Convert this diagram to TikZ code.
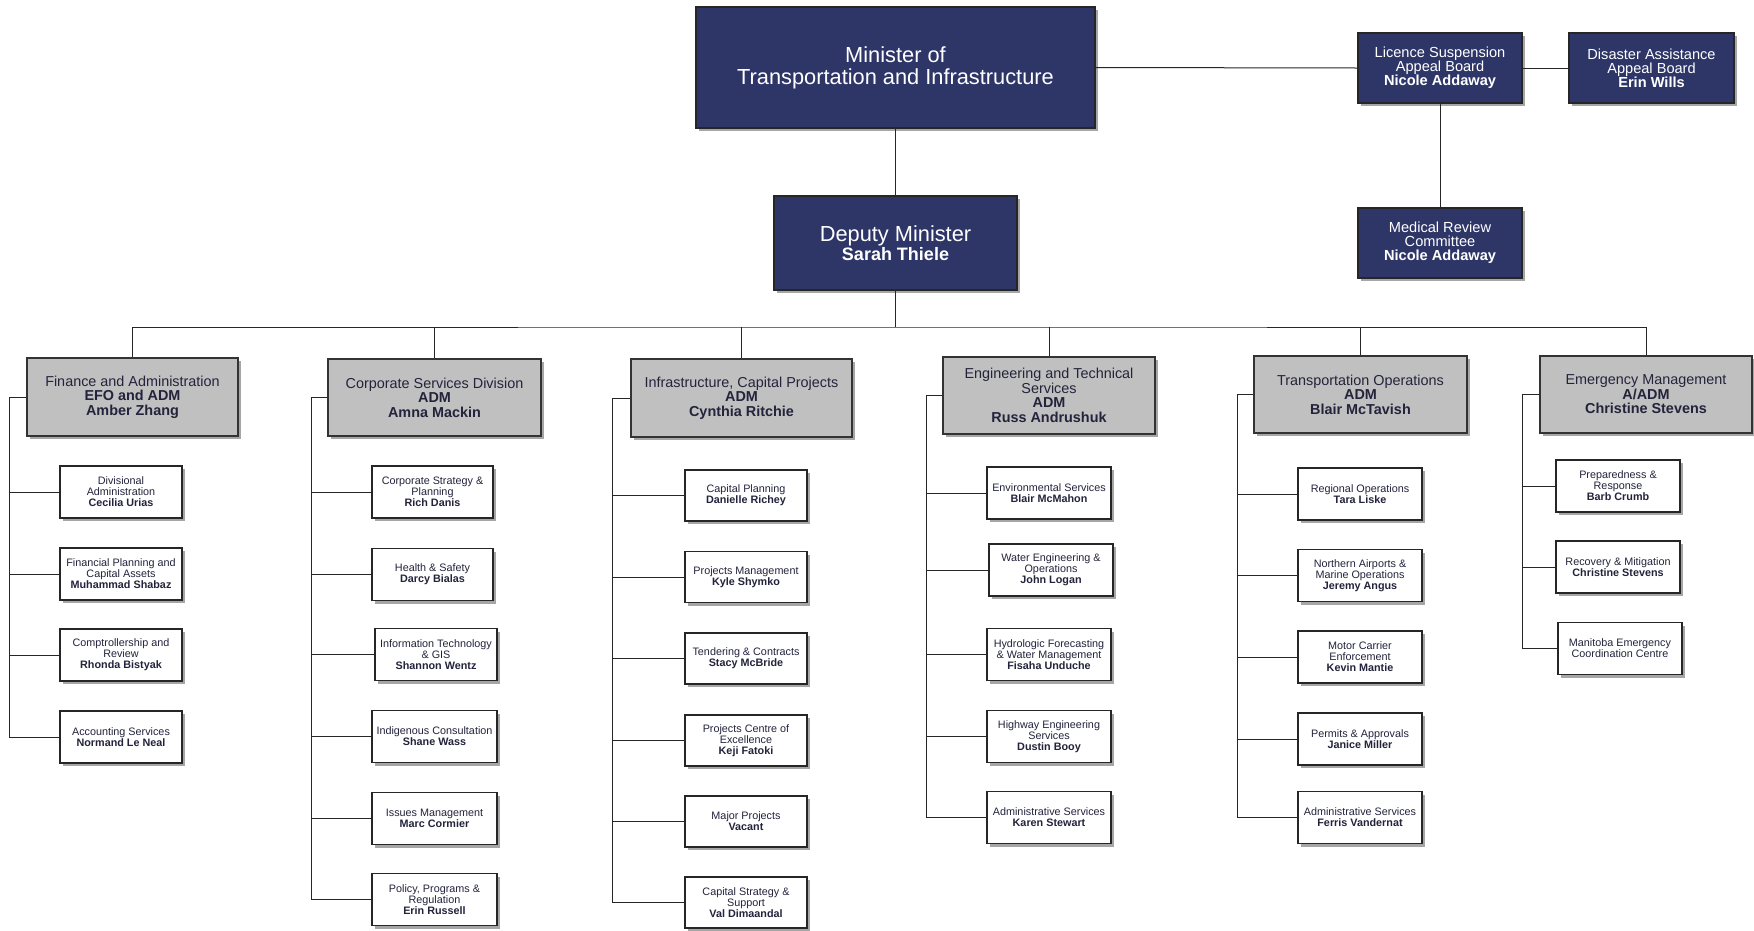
\documentclass[tikz,border=0pt]{standalone}
\usepackage{fontspec}
\setmainfont{Liberation Sans}
\usetikzlibrary{shadows}
\definecolor{navy}{RGB}{46,54,104}
\definecolor{divgray}{RGB}{192,192,192}
\definecolor{darktext}{RGB}{35,35,60}

\begin{document}
\begin{tikzpicture}[
  x=1pt, y=-1pt,
  boxshadow/.style={drop shadow={shadow xshift=3pt, shadow yshift=-3pt, fill=black, opacity=0.35}},
  topbox/.style={rectangle, draw=black!85, line width=1.2pt, fill=navy, text=white, align=center, inner sep=2pt, boxshadow},
  divbox/.style={rectangle, draw=black!80, line width=1.2pt, fill=divgray, text=darktext, align=center, inner sep=2pt, font=\fontsize{14.4}{14.5}\selectfont, boxshadow},
  unitbox/.style={rectangle, draw=black!85, line width=1.2pt, fill=white, text=darktext, align=center, inner sep=1pt, minimum width=123pt, font=\fontsize{10.8}{11}\selectfont, boxshadow},
  conn/.style={draw=black!85, line width=1pt}
]
  \useasboundingbox (0,0) rectangle (1754,930);

  % Minister and boards (top)
  \node[topbox, minimum width=399pt, minimum height=121pt, font=\fontsize{21.8}{22}\selectfont] (minister) at (895.5,67.5) {Minister of\\Transportation and Infrastructure};
  \node[topbox, minimum width=243pt, minimum height=94pt, font=\fontsize{21.8}{22}\selectfont] (deputy) at (895.5,243) {Deputy Minister\\[-3pt]{\bfseries\fontsize{18}{18}\selectfont Sarah Thiele}};
  \node[topbox, minimum width=164pt, minimum height=70pt, font=\fontsize{14.6}{14.2}\selectfont] (licence) at (1440,68) {Licence Suspension\\Appeal Board\\\textbf{Nicole Addaway}};
  \node[topbox, minimum width=165pt, minimum height=70pt, font=\fontsize{14.6}{14.2}\selectfont] (disaster) at (1651.5,68) {Disaster Assistance\\Appeal Board\\\textbf{Erin Wills}};
  \node[topbox, minimum width=164pt, minimum height=70pt, font=\fontsize{14.6}{14.2}\selectfont] (medical) at (1440,243) {Medical Review\\Committee\\\textbf{Nicole Addaway}};

  % Divisions (middle)
  \node[divbox, minimum width=211pt, minimum height=78pt] (fin) at (132.5,397) {Finance and Administration\\\textbf{EFO and ADM}\\\textbf{Amber Zhang}};
  \node[divbox, minimum width=213pt, minimum height=77pt] (corp) at (434.5,397.5) {Corporate Services Division\\\textbf{ADM}\\\textbf{Amna Mackin}};
  \node[divbox, minimum width=221pt, minimum height=78pt] (infra) at (741.5,398) {Infrastructure, Capital Projects\\\textbf{ADM}\\\textbf{Cynthia Ritchie}};
  \node[divbox, minimum width=212pt, minimum height=77pt] (eng) at (1049,395.5) {Engineering and Technical\\Services\\\textbf{ADM}\\\textbf{Russ Andrushuk}};
  \node[divbox, minimum width=213pt, minimum height=77pt] (trans) at (1360.5,394.5) {Transportation Operations\\\textbf{ADM}\\\textbf{Blair McTavish}};
  \node[divbox, minimum width=212pt, minimum height=77pt] (emerg) at (1646,394.5) {Emergency Management\\\textbf{A/ADM}\\\textbf{Christine Stevens}};

  % Finance units
  \node[unitbox, minimum width=122pt, minimum height=52pt] (fin1) at (121,492) {Divisional\\Administration\\\textbf{Cecilia Urias}};
  \node[unitbox, minimum width=122pt, minimum height=52pt] (fin2) at (121,574) {Financial Planning and\\Capital Assets\\\textbf{Muhammad Shabaz}};
  \node[unitbox, minimum width=122pt, minimum height=52pt] (fin3) at (121,655) {Comptrollership and\\Review\\\textbf{Rhonda Bistyak}};
  \node[unitbox, minimum width=122pt, minimum height=52pt] (fin4) at (121,737) {Accounting Services\\\textbf{Normand Le Neal}};

  % Corporate Services units
  \node[unitbox, minimum width=121pt, minimum height=52pt] (corp1) at (432.5,492) {Corporate Strategy \&\\Planning\\\textbf{Rich Danis}};
  \node[unitbox, minimum width=121pt, minimum height=52pt] (corp2) at (432.5,574.5) {Health \& Safety\\\textbf{Darcy Bialas}};
  \node[unitbox, minimum width=122pt, minimum height=52pt] (corp3) at (436,654.5) {Information Technology\\\& GIS\\\textbf{Shannon Wentz}};
  \node[unitbox, minimum width=125pt, minimum height=52pt] (corp4) at (434.5,736.5) {Indigenous Consultation\\\textbf{Shane Wass}};
  \node[unitbox, minimum width=125pt, minimum height=52pt] (corp5) at (434.5,818.5) {Issues Management\\\textbf{Marc Cormier}};
  \node[unitbox, minimum width=125pt, minimum height=52pt] (corp6) at (434.5,899.5) {Policy, Programs \&\\Regulation\\\textbf{Erin Russell}};

  % Infrastructure units
  \node[unitbox, minimum width=122pt, minimum height=51pt] (infra1) at (746,495.5) {Capital Planning\\\textbf{Danielle Richey}};
  \node[unitbox, minimum width=122pt, minimum height=51pt] (infra2) at (746,577) {Projects Management\\\textbf{Kyle Shymko}};
  \node[unitbox, minimum width=122pt, minimum height=51pt] (infra3) at (746,658.5) {Tendering \& Contracts\\\textbf{Stacy McBride}};
  \node[unitbox, minimum width=122pt, minimum height=51pt] (infra4) at (746,740.5) {Projects Centre of\\Excellence\\\textbf{Keji Fatoki}};
  \node[unitbox, minimum width=122pt, minimum height=51pt] (infra5) at (746,821.5) {Major Projects\\\textbf{Vacant}};
  \node[unitbox, minimum width=122pt, minimum height=51pt] (infra6) at (746,902.5) {Capital Strategy \&\\Support\\\textbf{Val Dimaandal}};

  % Engineering units
  \node[unitbox, minimum width=124pt, minimum height=52pt] (eng1) at (1049,493) {Environmental Services\\\textbf{Blair McMahon}};
  \node[unitbox, minimum width=124pt, minimum height=52pt] (eng2) at (1051,570) {Water Engineering \&\\Operations\\\textbf{John Logan}};
  \node[unitbox, minimum width=124pt, minimum height=52pt] (eng3) at (1049,654.5) {Hydrologic Forecasting\\\& Water Management\\\textbf{Fisaha Unduche}};
  \node[unitbox, minimum width=124pt, minimum height=52pt] (eng4) at (1049,736.5) {Highway Engineering\\Services\\\textbf{Dustin Booy}};
  \node[unitbox, minimum width=124pt, minimum height=52pt] (eng5) at (1049,817.5) {Administrative Services\\\textbf{Karen Stewart}};

  % Transportation units
  \node[unitbox, minimum width=124pt, minimum height=52pt] (trans1) at (1360,494) {Regional Operations\\\textbf{Tara Liske}};
  \node[unitbox, minimum width=124pt, minimum height=52pt] (trans2) at (1360,575.5) {Northern Airports \&\\Marine Operations\\\textbf{Jeremy Angus}};
  \node[unitbox, minimum width=124pt, minimum height=52pt] (trans3) at (1360,657) {Motor Carrier\\Enforcement\\\textbf{Kevin Mantie}};
  \node[unitbox, minimum width=124pt, minimum height=52pt] (trans4) at (1360,739) {Permits \& Approvals\\\textbf{Janice Miller}};
  \node[unitbox, minimum width=124pt, minimum height=52pt] (trans5) at (1360,817.5) {Administrative Services\\\textbf{Ferris Vandernat}};

  % Emergency units
  \node[unitbox, minimum width=124pt, minimum height=52pt] (emerg1) at (1618,486) {Preparedness \&\\Response\\\textbf{Barb Crumb}};
  \node[unitbox, minimum width=124pt, minimum height=52pt] (emerg2) at (1618,567) {Recovery \& Mitigation\\\textbf{Christine Stevens}};
  \node[unitbox, minimum width=124pt, minimum height=52pt] (emerg3) at (1620,648.5) {Manitoba Emergency\\Coordination Centre};

  % Lignes top
  \draw[conn] (minister.south) -- (deputy.north);
  \draw[conn] (minister.east) -- (licence.west);
  \draw[conn] (licence.east) -- (disaster.west);
  \draw[conn] (licence.south) -- (medical.north);

  % Bus to divisions
  \coordinate (busmid) at (895.5,327);
  \draw[conn] (deputy.south) -- (busmid);
  \draw[conn] (fin.north) |- (busmid) -| (emerg.north);
  \draw[conn] (corp.north) -- (corp.north |- busmid);
  \draw[conn] (infra.north) -- (infra.north |- busmid);
  \draw[conn] (eng.north) -- (eng.north |- busmid);
  \draw[conn] (trans.north) -- (trans.north |- busmid);

  % Spines to units
  \draw[conn] (fin.west) -- ++(-17,0) coordinate (finspine) |- (fin4.west)
    (finspine) |- (fin1.west) (finspine) |- (fin2.west) (finspine) |- (fin3.west);
  \draw[conn] (corp.west) -- ++(-16,0) coordinate (corpspine) |- (corp6.west)
    (corpspine) |- (corp1.west) (corpspine) |- (corp2.west) (corpspine) |- (corp3.west)
    (corpspine) |- (corp4.west) (corpspine) |- (corp5.west);
  \draw[conn] (infra.west) -- ++(-18,0) coordinate (infraspine) |- (infra6.west)
    (infraspine) |- (infra1.west) (infraspine) |- (infra2.west) (infraspine) |- (infra3.west)
    (infraspine) |- (infra4.west) (infraspine) |- (infra5.west);
  \draw[conn] (eng.west) -- ++(-16,0) coordinate (engspine) |- (eng5.west)
    (engspine) |- (eng1.west) (engspine) |- (eng2.west) (engspine) |- (eng3.west) (engspine) |- (eng4.west);
  \draw[conn] (trans.west) -- ++(-16,0) coordinate (transspine) |- (trans5.west)
    (transspine) |- (trans1.west) (transspine) |- (trans2.west) (transspine) |- (trans3.west) (transspine) |- (trans4.west);
  \draw[conn] (emerg.west) -- ++(-17,0) coordinate (emergspine) |- (emerg3.west)
    (emergspine) |- (emerg1.west) (emergspine) |- (emerg2.west);

\end{tikzpicture}
\end{document}
